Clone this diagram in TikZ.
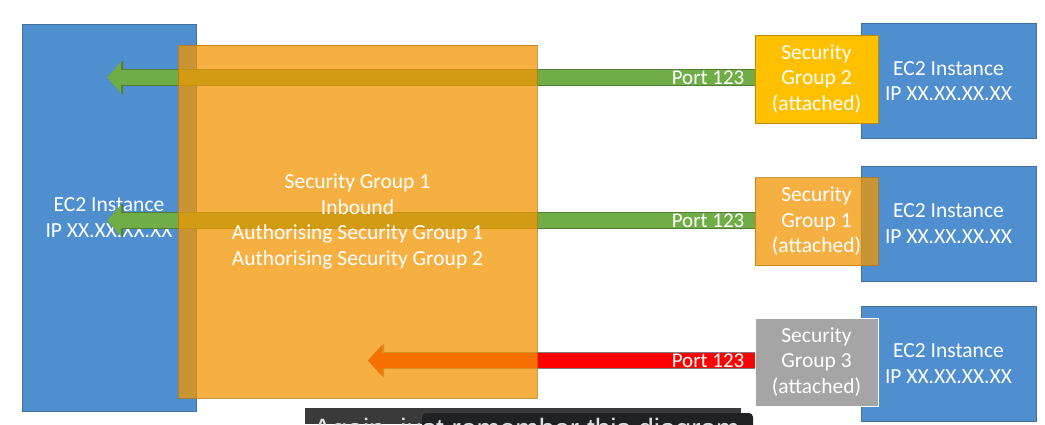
\documentclass[tikz,border=0pt]{standalone}
\usepackage{fontspec}
\setmainfont{Carlito}
\newfontfamily\capfont{Liberation Sans}
\usepackage{tikz}
\usetikzlibrary{arrows.meta,calc}
\usetikzlibrary{positioning}
\definecolor{ecblue}{HTML}{4F8FCF}
\definecolor{ecline}{HTML}{41719C}
\definecolor{sgorange}{HTML}{F39603}
\definecolor{sgoline}{HTML}{B8760E}
\definecolor{sggold}{HTML}{FFC000}
\definecolor{sggline}{HTML}{BC8C00}
\definecolor{sggray}{HTML}{A5A5A5}
\definecolor{okgreen}{HTML}{70AD47}
\definecolor{okline}{HTML}{507E32}
\definecolor{badred}{HTML}{FF0000}
\definecolor{badline}{HTML}{7F7F7F}
\definecolor{capgray}{HTML}{3A3A3A}
\definecolor{capdark}{HTML}{202124}
\tikzset{bigtxt/.style={text=white,align=center,inner sep=0pt,font=\fontsize{21.5}{25.5}\selectfont}}
\tikzset{ecbox/.style={bigtxt,draw=ecline,fill=ecblue,line width=1pt}}
\tikzset{sgbox/.style={bigtxt,draw=sgoline,fill=sgorange,line width=1pt,fill opacity=0.75,draw opacity=0.75,text opacity=1}}
\tikzset{sggoldbox/.style={bigtxt,draw=sggline,fill=sggold,line width=1pt}}
\tikzset{sggraybox/.style={bigtxt,draw=white,fill=sggray,line width=1pt}}
\tikzset{portlbl/.style={text=white,inner sep=0pt,anchor=east,font=\fontsize{21}{24}\selectfont}}

\begin{document}
\begin{tikzpicture}[x=1pt,y=-1pt,line join=miter,
  okarrow/.style={okgreen,line width=15pt,-{Triangle[width=31pt,length=14pt,line width=0pt]},
    preaction={draw=okline,line width=17pt,-{Triangle[width=34pt,length=16pt,line width=0pt]}}},
  badarrow/.style={badred,line width=15pt,-{Triangle[width=31pt,length=14pt,line width=0pt]},
    preaction={draw=badline,line width=17pt,-{Triangle[width=34pt,length=16pt,line width=0pt]}}}]
\useasboundingbox (0,0) rectangle (1045,424);
\clip (0,0) rectangle (1045,424);
% --- instance on the left
\node[ecbox,minimum width=174pt,minimum height=387pt] (ec2L) at (109,217.5) {EC2 Instance\\IP XX.XX.XX.XX};
% --- instances on the right with their attached groups
\foreach \k/\y/\sy/\st/\g in {A/81/79/sggoldbox/2,B/223.5/221.5/sgbox/1,C/363.5/362/sggraybox/3} {
  \node[ecbox,minimum width=175pt,minimum height=115pt] (ec2\k) at (948.5,\y) {EC2 Instance\\IP XX.XX.XX.XX};
  \node[\st,minimum width=123pt,minimum height=88pt] (sg\k) at (816.5,\sy) {Security\\Group \g\\(attached)};
}
% --- traffic on port 123
\foreach \k/\y/\tx/\sty in {A/77.5/107/okarrow,B/220.5/107/okarrow,C/360.5/368/badarrow} {
  \coordinate (tip\k) at (\tx,\y);
  \draw[\sty] (sg\k.west |- tip\k) -- (tip\k);
  \node[portlbl] (port\k) at ($(sg\k.west |- tip\k)+(-10,0)$) {Port 123};
}
% --- group 1 rules
\node[sgbox,minimum width=359pt,minimum height=353pt] (sg1) at (357.5,221.5)
  {Security Group 1\\Inbound\\Authorising Security Group 1\\Authorising Security Group 2};
% --- video caption
\fill[capgray] (305,408) rectangle (741,424);
\fill[capdark,rounded corners=4pt] (422,432) |- (753,413) -- (753,432);
\node[anchor=base west,inner sep=0pt,text=white!88!black,font=\capfont\fontsize{28}{30}\selectfont] (cap) at (313,438) {Again, just remember this diagram};
\end{tikzpicture}
\end{document}
